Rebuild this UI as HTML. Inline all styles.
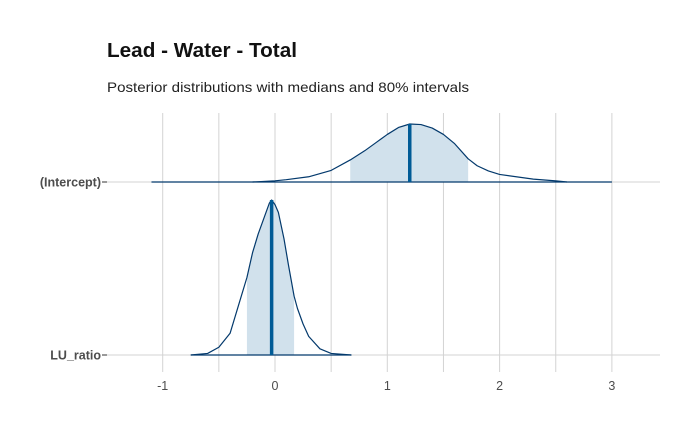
<!DOCTYPE html>
<html><head><meta charset="utf-8"><style>
body{margin:0;background:#fff;}
svg text{font-family:"Liberation Sans",sans-serif;}
</style></head><body>
<svg id="chart" width="700" height="432" xmlns="http://www.w3.org/2000/svg">
<text x="107" y="57" font-size="20" font-weight="bold" fill="#111" textLength="190" lengthAdjust="spacingAndGlyphs">Lead - Water - Total</text>
<text x="107" y="92" font-size="14" fill="#222" textLength="362" lengthAdjust="spacingAndGlyphs">Posterior distributions with medians and 80% intervals</text>
<g id="grid"></g><g id="marks"></g><g id="axes"></g>
</svg>
<script>
const xTicks=[-1,0,1,2,3];
const xMinor=[-0.5,0.5,1.5,2.5];
const params=["(Intercept)","LU_ratio"];
const intX=[-0.2,0,0.1,0.3,0.5,0.67,0.8,0.9,1.0,1.1,1.2,1.3,1.4,1.5,1.6,1.72,1.8,1.9,2.0,2.3,2.5,2.6];
const intD=[0,0.02,0.04,0.09,0.2,0.38,0.54,0.68,0.82,0.94,1.0,0.99,0.93,0.82,0.66,0.4,0.28,0.19,0.13,0.05,0.02,0];
const luX=[-0.75,-0.6,-0.5,-0.4,-0.3,-0.25,-0.2,-0.15,-0.1,-0.05,-0.03,0,0.03,0.08,0.12,0.17,0.2,0.25,0.3,0.4,0.5,0.68];
const luD=[0,0.01,0.05,0.14,0.38,0.5,0.66,0.78,0.88,0.98,1.0,0.97,0.92,0.75,0.58,0.38,0.3,0.2,0.12,0.04,0.01,0];
const ranges=[[-1.1,3.0],[-0.75,0.68]];
const medians=[1.2,-0.03];
const intervals=[[0.67,1.72],[-0.25,0.17]];
const NS="http://www.w3.org/2000/svg";
const sx=v=>275+v*112.3;
const baseY=[182,355], heights=[58,155];
function mk(tag,attrs,parent){const e=document.createElementNS(NS,tag);for(const k in attrs)e.setAttribute(k,attrs[k]);parent.appendChild(e);return e;}
const grid=document.getElementById('grid'),marks=document.getElementById('marks'),axes=document.getElementById('axes');
xTicks.concat(xMinor).forEach(t=>{const l=mk('line',{x1:sx(t),x2:sx(t),y1:113,y2:372,stroke:'#d3d3d3','stroke-width':1},grid);

});
params.forEach((p,i)=>{const l=mk('line',{x1:107,x2:660,y1:baseY[i],y2:baseY[i],stroke:'#d3d3d3','stroke-width':1},grid);

});
const dens=[[intX,intD],[luX,luD]];
dens.forEach((d,i)=>{
 const [xs,ds]=d,b=baseY[i],h=heights[i];
 const yv=v=>b-v*h;
 const at=x=>{for(let k=0;k<xs.length-1;k++){if(x>=xs[k]&&x<=xs[k+1]){const f=(x-xs[k])/(xs[k+1]-xs[k]);return ds[k]+f*(ds[k+1]-ds[k]);}}return 0;};
 const [lo,hi]=intervals[i];
 let pts=[[lo,0],[lo,at(lo)]];xs.forEach((x,k)=>{if(x>lo&&x<hi)pts.push([x,ds[k]]);});pts.push([hi,at(hi)],[hi,0]);
 const area=mk('path',{d:'M'+pts.map(q=>sx(q[0])+','+yv(q[1])).join('L')+'Z',fill:'#d1e1ec'},marks);
 
 
 const base=mk('line',{x1:sx(ranges[i][0]),x2:sx(ranges[i][1]),y1:b,y2:b,stroke:'#03396c','stroke-width':1.2},marks);
 
 
 const curve=mk('path',{d:'M'+xs.map((x,k)=>sx(x)+','+yv(ds[k])).join('L'),fill:'none',stroke:'#03396c','stroke-width':1.2,'stroke-linejoin':'round'},marks);
 
 
 const m=mk('line',{x1:sx(medians[i]),x2:sx(medians[i]),y1:b,y2:yv(at(medians[i])),stroke:'#005b96','stroke-width':3.5},marks);
 
 
 const tk=mk('line',{x1:102,x2:107,y1:b,y2:b,stroke:'#333','stroke-width':1},axes);
 
 
 const t=mk('text',{x:101,y:b+4.5,'text-anchor':'end','font-size':12.5,'font-weight':'bold',fill:'#4d4d4d'},axes);
 t.textContent=params[i];
 
 
});
xTicks.forEach(t=>{const e=mk('text',{x:sx(t),y:390,'text-anchor':'middle','font-size':12.5,fill:'#4d4d4d'},axes);
 e.textContent=String(t);
 
 });
</script>
</body></html>
